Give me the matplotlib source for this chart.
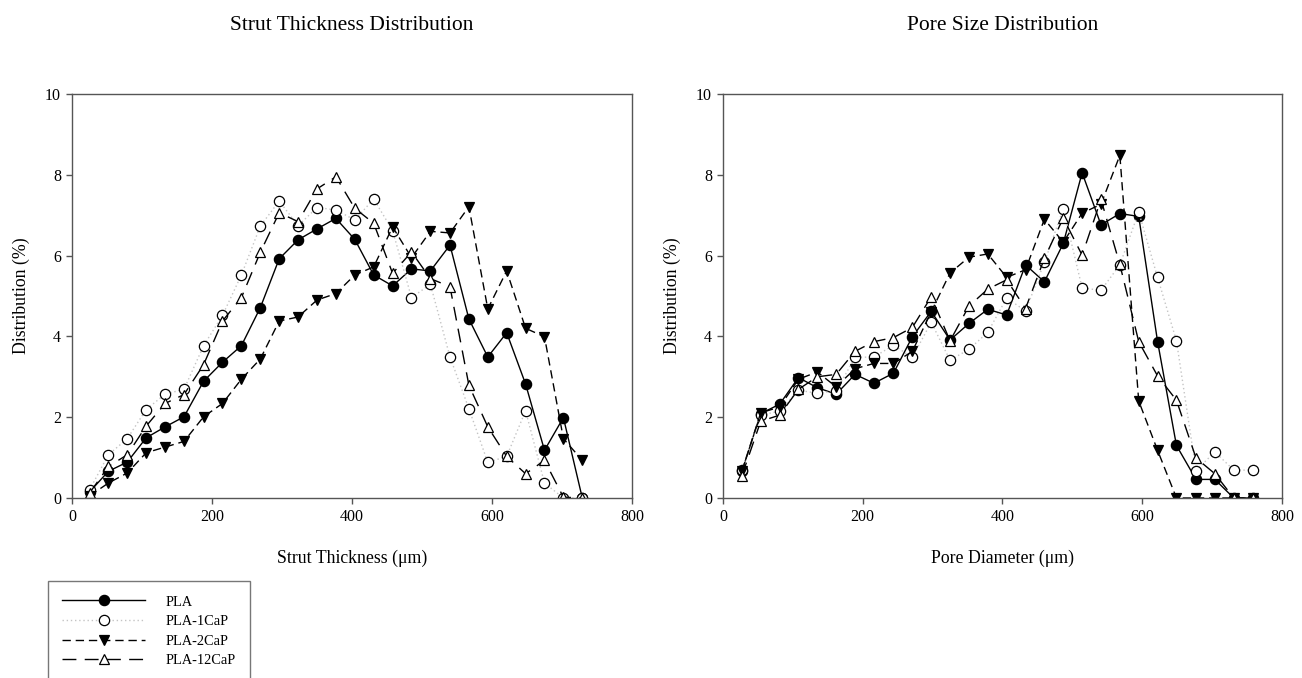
import matplotlib
matplotlib.use("Agg")
import matplotlib.pyplot as plt

# Bin centres (µm)
strut_x = [25, 52, 79, 106, 133, 160, 188, 215, 242, 269, 296, 323, 350, 377,
           404, 431, 458, 485, 512, 540, 567, 594, 621, 648, 675, 702, 729]
pore_x = [27, 54, 81, 108, 135, 162, 189, 216, 244, 271, 298, 325, 352, 379,
          406, 433, 460, 487, 514, 541, 568, 595, 622, 649, 677, 704, 731, 758]

# Strut thickness distribution (%)
strut_pla = [0.15, 0.66, 0.89, 1.49, 1.76, 2.01, 2.89, 3.36, 3.77, 4.71, 5.92, 6.39, 6.66, 6.92,
             6.40, 5.52, 5.25, 5.67, 5.62, 6.26, 4.43, 3.49, 4.09, 2.82, 1.18, 1.99, 0.0]
strut_1cap = [0.20, 1.07, 1.47, 2.19, 2.57, 2.69, 3.77, 4.52, 5.52, 6.73, 7.35, 6.74, 7.19, 7.13,
              6.88, 7.40, 6.62, 4.96, 5.29, 3.49, 2.21, 0.88, 1.03, 2.16, 0.37, 0.0, 0.0]
strut_2cap = [0.05, 0.37, 0.62, 1.12, 1.26, 1.40, 2.01, 2.34, 2.94, 3.44, 4.38, 4.48, 4.90, 5.06,
              5.52, 5.72, 6.71, 5.95, 6.60, 6.56, 7.21, 4.68, 5.62, 4.20, 3.99, 1.47, 0.93]
strut_12cap = [0.12, 0.78, 1.07, 1.78, 2.34, 2.56, 3.30, 4.38, 4.96, 6.08, 7.06, 6.84, 7.65, 7.95,
               7.17, 6.80, 5.56, 6.09, 5.43, 5.23, 2.79, 1.76, 1.03, 0.60, 0.93, 0.02, 0.0]

# Pore size distribution (%)
pore_pla = [0.66, 2.09, 2.32, 2.98, 2.73, 2.57, 3.06, 2.84, 3.09, 3.99, 4.62, 3.91, 4.32, 4.67,
            4.53, 5.77, 5.35, 6.30, 8.05, 6.76, 7.04, 6.97, 3.87, 1.30, 0.46, 0.46, 0.0, 0.0]
pore_1cap = [0.70, 2.05, 2.15, 2.67, 2.59, 2.65, 3.48, 3.49, 3.78, 3.48, 4.35, 3.41, 3.68, 4.10,
             4.95, 4.63, 5.83, 7.16, 5.20, 5.14, 5.77, 7.08, 5.46, 3.89, 0.68, 1.14, 0.69, 0.69]
pore_2cap = [0.66, 2.11, 2.25, 2.94, 3.12, 2.75, 3.20, 3.33, 3.33, 3.63, 4.61, 5.57, 5.96, 6.04,
             5.46, 5.65, 6.90, 6.33, 7.05, 7.27, 8.48, 2.40, 1.18, 0.0, 0.0, 0.0, 0.0, 0.0]
pore_12cap = [0.55, 1.90, 2.05, 2.69, 3.00, 3.06, 3.63, 3.87, 3.97, 4.22, 4.98, 3.89, 4.75, 5.17,
              5.40, 4.69, 5.93, 6.93, 6.01, 7.39, 5.78, 3.87, 3.02, 2.42, 0.99, 0.60, 0.0, 0.0]

labels = ["PLA", "PLA-1CaP", "PLA-2CaP", "PLA-12CaP"]

# line / marker style for each material
styles = [
    dict(color="black", linestyle="-", marker="o", mfc="black", mec="black"),
    dict(color="#c4c4c4", linestyle=(0, (1, 2)), marker="o", mfc="white", mec="black"),
    dict(color="black", linestyle=(0, (6, 3.5)), marker="v", mfc="black", mec="black"),
    dict(color="black", linestyle=(0, (10, 6)), marker="^", mfc="white", mec="black"),
]

plt.rcParams["font.family"] = ["Liberation Serif", "DejaVu Serif"]

fig = plt.figure(figsize=(13.02, 6.78), dpi=100)
ax1 = fig.add_axes([0.0553, 0.2655, 0.4301, 0.5959])
ax2 = fig.add_axes([0.5553, 0.2655, 0.4293, 0.5959])


def draw_panel(ax, x, series, title, xlabel):
    handles = []
    for y, st, lab in zip(series, styles, labels):
        h, = ax.plot(x, y, linewidth=1.0, markersize=7.4, markeredgewidth=0.9,
                     label=lab, **st)
        handles.append(h)
    ax.set_xlim(0, 800)
    ax.set_ylim(0, 10)
    ax.set_xticks([0, 200, 400, 600, 800])
    ax.set_yticks([0, 2, 4, 6, 8, 10])
    ax.tick_params(direction="out", length=4, width=1, color="#555555",
                   labelsize=11.5, pad=4)
    for sp in ax.spines.values():
        sp.set_color("#555555")
        sp.set_linewidth(1.0)
    ax.set_title(title, fontsize=15.5, pad=46)
    ax.set_xlabel(xlabel, fontsize=12.8, labelpad=18)
    ax.set_ylabel("Distribution (%)", fontsize=12.8, labelpad=11)
    return handles


handles = draw_panel(ax1, strut_x, [strut_pla, strut_1cap, strut_2cap, strut_12cap],
                     "Strut Thickness Distribution", "Strut Thickness (μm)")
draw_panel(ax2, pore_x, [pore_pla, pore_1cap, pore_2cap, pore_12cap],
           "Pore Size Distribution", "Pore Diameter (μm)")

leg = fig.legend(handles=handles, loc="upper left", bbox_to_anchor=(0.0369, 0.1431),
                 borderaxespad=0, fontsize=10.4, frameon=True, fancybox=False,
                 numpoints=1, handlelength=5.7, handletextpad=1.45, labelspacing=0.45,
                 borderpad=1.0)
leg.get_frame().set_edgecolor("#555555")
leg.get_frame().set_linewidth(1.0)

fig.savefig("out.png", dpi=100)
